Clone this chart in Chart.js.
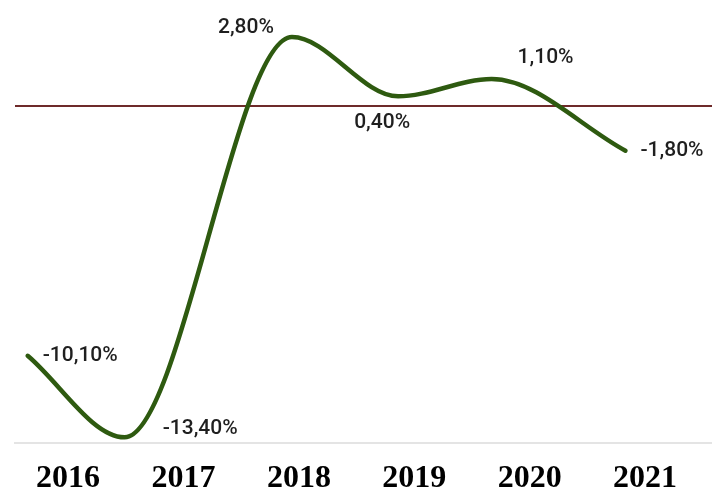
<!DOCTYPE html>
<html>
<head>
<meta charset="utf-8">
<script src="https://cdn.jsdelivr.net/npm/chart.js@4"></script>
<style>
    html, body { margin: 0; padding: 0; background: #fff; }
    #wrap { width: 712px; height: 488px; }
</style>
</head>
<body>
<div id="wrap"><canvas id="growthChart"></canvas></div>
<script>
// year ticks along the bottom
const years = [2016, 2017, 2018, 2019, 2020, 2021];

// where each reading sits along the time axis, and its value (%)
const pointYears = [2015.65, 2016.49, 2017.94, 2018.86, 2019.67, 2020.83];
const growth = [-10.1, -13.4, 2.8, 0.4, 1.1, -1.8];

const COLORS = {
    line: "#2e5a10",
    zero: "#6e2a2a",
    base: "#e4e4e4",
    text: "#1f1f1f",
};

// label placement next to each point: [dx, dy, textAlign]
const labelSpots = [
    [15, 0, "left"],
    [38, -9, "left"],
    [-18, -9, "right"],
    [-16, 26, "center"],
    [54, -21, "center"],
    [15, 0, "left"],
];

const fmt = (v) => v.toFixed(2).replace(".", ",") + "%";

/*
|--------------------------------------------------------------------------
| Value labels
|--------------------------------------------------------------------------
*/

const valueLabels = {
    id: "valueLabels",
    afterDatasetsDraw(chart) {
        const { ctx } = chart;
        const meta = chart.getDatasetMeta(0);

        ctx.save();
        ctx.font = '500 21px Roboto, "Noto Sans", sans-serif';
        ctx.fillStyle = COLORS.text;
        ctx.textBaseline = "middle";

        meta.data.forEach((pt, i) => {
            const [dx, dy, align] = labelSpots[i];
            ctx.textAlign = align;
            ctx.fillText(fmt(growth[i]), pt.x + dx, pt.y + dy);
        });

        ctx.restore();
    },
};

new Chart(document.getElementById("growthChart"), {
    type: "line",

    data: {
        datasets: [
            {
                data: pointYears.map((x, i) => ({ x, y: growth[i] })),

                borderColor: COLORS.line,
                borderWidth: 4.5,
                borderCapStyle: "round",
                cubicInterpolationMode: "monotone",
                pointRadius: 0,
                fill: false,
            },
        ],
    },

    options: {
        responsive: true,
        maintainAspectRatio: false,
        animation: false,

        layout: {
            padding: { left: 15, right: 0, top: 0, bottom: 0 },
        },

        plugins: {
            legend: { display: false },
            tooltip: { enabled: false },
        },

        scales: {
            x: {
                type: "linear",
                min: 2015.54,
                max: 2021.58,

                afterBuildTicks: (scale) => {
                    scale.ticks = years.map((v) => ({ value: v }));
                },

                afterFit: (scale) => {
                    scale.height = 45;
                },

                grid: {
                    color: "transparent",
                    drawTicks: false,
                },

                border: {
                    color: COLORS.base,
                    width: 2,
                },

                ticks: {
                    autoSkip: false,
                    maxRotation: 0,
                    padding: 20,
                    color: "#000",
                    font: {
                        family: '"Liberation Serif", "Times New Roman", serif',
                        size: 32,
                        weight: "bold",
                        lineHeight: 1,
                    },
                    callback: (v) => String(v),
                },
            },

            y: {
                min: -13.63,
                max: 4.3,

                afterBuildTicks: (scale) => {
                    scale.ticks = [{ value: 0 }];
                },

                grid: {
                    color: (c) => (c.tick && c.tick.value === 0 ? COLORS.zero : "transparent"),
                    lineWidth: 2,
                    drawTicks: false,
                },

                border: { display: false },

                ticks: { display: false },
            },
        },
    },

    plugins: [valueLabels],
});
</script>
</body>
</html>
